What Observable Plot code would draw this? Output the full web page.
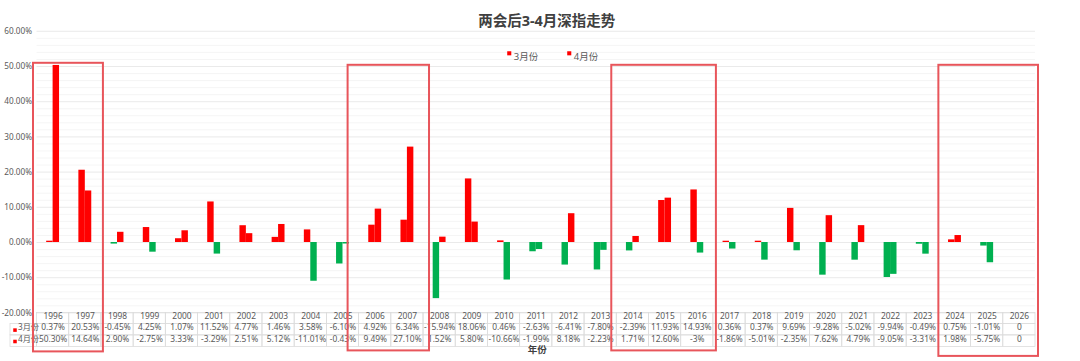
<!DOCTYPE html>
<html>
<head>
<meta charset="utf-8">
<script src="https://cdn.jsdelivr.net/npm/d3@7"></script>
<script src="https://cdn.jsdelivr.net/npm/@observablehq/plot@0.6"></script>
<style>
  html, body { margin: 0; padding: 0; background: #fff; }
  #chart svg { display: block; }
</style>
</head>
<body>
<div id="chart"></div>
<script>
// ---- data ----
const years = d3.range(1996, 2027);
const march = [0.37, 20.53, -0.45, 4.25, 1.07, 11.52, 4.77, 1.46, 3.58, -6.10, 4.92, 6.34, -15.94, 18.06, 0.46, -2.63, -6.41, -7.80, -2.39, 11.93, 14.93, 0.36, 0.37, 9.69, -9.28, -5.02, -9.94, -0.49, 0.75, -1.01, 0];
const april = [50.30, 14.64, 2.90, -2.75, 3.33, -3.29, 2.51, 5.12, -11.01, -0.43, 9.49, 27.10, 1.52, 5.80, -10.66, -1.99, 8.18, -2.23, 1.71, 12.60, -3, -1.86, -5.01, -2.35, 7.62, 4.79, -9.05, -3.31, 1.98, -5.75, 0];
const seriesNames = ["3月份", "4月份"];
const yTicks = d3.range(-20, 61, 10);
const highlights = [[1996, 1997], [2006, 2007], [2014, 2016], [2024, 2026]];
const title = "两会后3-4月深指走势";
const xTitle = "年份";

// ---- derived ----
const rows = years.map((y, i) => ({year: y, m3: march[i], m4: april[i]}));
const fmt = v => v === 0 ? "0" : (Number.isInteger(v) ? v + "%" : v.toFixed(2) + "%");
const RED = "#FF0000", GREEN = "#00B050";
const colorOf = v => v >= 0 ? RED : GREEN;
const txt = "#595959";
const border = "#dcdcdc";
// hand-drawn annotation boxes: padding (left, right, top, bottom) in px
const boxPad = [[-3.5, -2, 32, -39], [-11, -6, 34, -38], [-5, -3, 34, -38], [0, -3, 34, -43.5]];

const cellRow = (insetTop, insetBottom) => Plot.rect(rows, {
  x1: d => d.year - 0.5, x2: d => d.year + 0.5, y1: -20, y2: -20,
  insetTop, insetBottom, fill: "none", stroke: border, strokeWidth: 0.8
});
const legendCell = (insetTop, insetBottom) => Plot.rect([0], {
  x1: 1995.5, x2: 1995.5, y1: -20, y2: -20, insetLeft: -26.5,
  insetTop, insetBottom, fill: "none", stroke: border, strokeWidth: 0.8
});
const tableText = (accessor, dy) => Plot.text(rows, {x: "year", text: accessor, frameAnchor: "bottom", dy, fill: txt, fontSize: 8.4});

const chart = Plot.plot({
  width: 1080,
  height: 361,
  marginLeft: 36.5,
  marginRight: 45,
  marginTop: 30.8,
  marginBottom: 48.6,
  style: {fontFamily: "'Noto Sans', 'Noto Sans CJK SC', sans-serif", fontSize: "8.2px", color: txt, background: "#fff"},
  x: {type: "linear", domain: [1995.5, 2026.5], axis: null},
  y: {domain: [-20, 60], ticks: yTicks, tickFormat: d => d.toFixed(2) + "%", tickSize: 0, tickPadding: 5, label: null},
  marks: [
    // gridlines
    Plot.ruleY(d3.range(-20, 61, 2).filter(v => v % 10 !== 0), {stroke: "#f2f2f2", strokeWidth: 0.8}),
    Plot.ruleY(yTicks, {stroke: "#e4e4e4", strokeWidth: 0.8}),
    // bars
    Plot.rectY(rows, {x1: d => d.year - 0.2, x2: d => d.year, y1: 0, y2: "m3", fill: d => colorOf(d.m3)}),
    Plot.rectY(rows, {x1: d => d.year, x2: d => d.year + 0.2, y1: 0, y2: "m4", fill: d => colorOf(d.m4)}),
    // data table
    cellRow(0, -11),
    cellRow(11, -22.5),
    cellRow(22.5, -34),
    legendCell(11, -22.5),
    legendCell(22.5, -34),
    tableText(d => String(d.year), 5.8),
    tableText(d => fmt(d.m3), 17.2),
    tableText(d => fmt(d.m4), 28.6),
    Plot.dot([0], {x: 1995.5, frameAnchor: "bottom", dx: -22, dy: 17.2, symbol: "square", r: 2, fill: RED}),
    Plot.dot([0], {x: 1995.5, frameAnchor: "bottom", dx: -22, dy: 28.6, symbol: "square", r: 2, fill: RED}),
    Plot.text([seriesNames[0]], {x: 1995.5, frameAnchor: "bottom", dx: -19, dy: 17.2, text: d => d, textAnchor: "start", fill: txt, fontSize: 8.2}),
    Plot.text([seriesNames[1]], {x: 1995.5, frameAnchor: "bottom", dx: -19, dy: 28.6, text: d => d, textAnchor: "start", fill: txt, fontSize: 8.2}),
    Plot.text([xTitle], {frameAnchor: "bottom", dx: 1, dy: 40.5, text: d => d, fill: "#404040", fontSize: 9.5, fontWeight: "bold"}),
    // title
    Plot.text([title], {frameAnchor: "top", dx: 10.5, dy: -16, text: d => d, fill: "#404040", fontSize: 14.5, fontWeight: "bold"}),
    // legend
    Plot.dot([0], {frameAnchor: "top", dx: -27, dy: 22, symbol: "square", r: 2.3, fill: RED}),
    Plot.text([seriesNames[0]], {frameAnchor: "top", dx: -22.5, dy: 22, text: d => d, textAnchor: "start", fill: txt, fontSize: 9.5}),
    Plot.dot([0], {frameAnchor: "top", dx: 33, dy: 22, symbol: "square", r: 2.3, fill: RED}),
    Plot.text([seriesNames[1]], {frameAnchor: "top", dx: 37.5, dy: 22, text: d => d, textAnchor: "start", fill: txt, fontSize: 9.5}),
    // highlight boxes
    ...highlights.map((g, i) => Plot.rect([g], {
      x1: d => d[0] - 0.5, x2: d => d[1] + 0.5, y1: -20, y2: 60,
      insetLeft: boxPad[i][0], insetRight: boxPad[i][1], insetTop: boxPad[i][2], insetBottom: boxPad[i][3],
      fill: "none", stroke: "#E8555B", strokeWidth: 2
    }))
  ]
});
document.getElementById("chart").appendChild(chart);
</script>
</body>
</html>
